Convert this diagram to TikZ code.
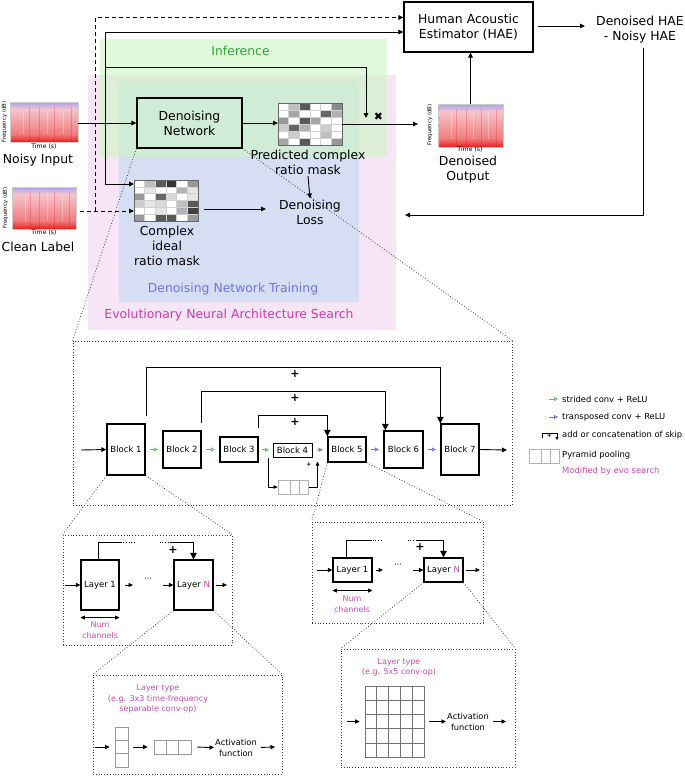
\documentclass[tikz,border=0pt]{standalone}
\usepackage{fontspec}
\setmainfont{DejaVu Sans}
\usetikzlibrary{arrows.meta,calc}
\definecolor{pinkbg}{RGB}{246,229,244}
\definecolor{bluebg}{RGB}{214,222,243}
\definecolor{greenbg}{RGB}{205,245,195}
\definecolor{infg}{RGB}{50,165,50}
\definecolor{trainc}{RGB}{110,115,230}
\definecolor{evoc}{RGB}{205,60,170}
\definecolor{mag}{RGB}{210,70,185}
\definecolor{garrc}{RGB}{90,190,90}
\definecolor{parrc}{RGB}{115,105,205}
\definecolor{specblue}{RGB}{165,165,238}
\definecolor{spectop}{RGB}{246,196,204}
\definecolor{specmid}{RGB}{240,125,125}
\definecolor{specred}{RGB}{236,30,30}
\newcommand\fsz[2]{\fontsize{#1}{#2}\selectfont}
\newcommand\specart[1]{%
  \shade[top color=spectop, bottom color=specmid]
    ($(#1.north west)!0.17!(#1.south west)$) rectangle ($(#1.north east)!0.8!(#1.south east)$);
  \shade[top color=specmid, bottom color=specred]
    ($(#1.north west)!0.8!(#1.south west)$) rectangle (#1.south east);
  \shade[top color=specblue, bottom color=spectop]
    (#1.north west) rectangle ($(#1.north east)!0.17!(#1.south east)$);
  \foreach \t in {0.28,0.43,0.66,0.9} {
    \draw[red!85!black, opacity=0.22, line width=0.8pt]
      ($(#1.north west)!\t!(#1.north east)+(0,5)$) -- ($(#1.south west)!\t!(#1.south east)$);}
  \foreach \t in {0.2,0.55,0.78} {
    \draw[white, opacity=0.3, line width=0.6pt]
      ($(#1.north west)!\t!(#1.north east)+(0,8)$) -- ($(#1.south west)!\t!(#1.south east)+(0,-8)$);}
  \draw[black!20, line width=0.4pt] (#1.north west) rectangle (#1.south east);
}
\begin{document}
\begin{tikzpicture}[x=1pt,y=-1pt,
  arr/.style={-{Triangle[length=5pt,width=4.6pt]}, line width=0.9pt},
  sarr/.style={-{Triangle[length=4.5pt,width=4.2pt]}, line width=0.9pt},
  skiparr/.style={-{Triangle[length=6.5pt,width=6.5pt]}, line width=1pt},
  dblarr/.style={{Triangle[length=4.5pt,width=4pt]}-{Triangle[length=4.5pt,width=4pt]}, line width=0.9pt},
  garr/.style={-{Triangle[open,length=4pt,width=4pt]}, draw=garrc, line width=0.8pt},
  parr/.style={-{Triangle[open,length=4pt,width=4pt]}, draw=parrc, line width=0.8pt},
  zoomln/.style={dotted, line width=0.8pt, black!75},
  zbox/.style={draw=black!75, dotted, line width=0.8pt, inner sep=0},
  blk/.style={draw, line width=1.3pt, inner sep=0, font=\fsz{8.5}{10}},
  lyr/.style={draw, line width=1.1pt, inner sep=0, font=\fsz{8.5}{10}},
  toptxt/.style={font=\fsz{12.4}{15}, align=center, inner sep=1pt},
  smalltxt/.style={font=\fsz{8.3}{11}, align=center, inner sep=1pt},
  magtxt/.style={text=mag, font=\fsz{8}{10.8}, align=center, inner sep=1pt},
  legtxt/.style={font=\fsz{8.4}{10}, anchor=west, inner sep=0},
  plus/.style={font=\bfseries\fsz{11}{12}, inner sep=0},
  axtxt/.style={font=\fsz{6.2}{7}, inner sep=0.5pt},
  frtxt/.style={font=\fsz{5.4}{6}, inner sep=0.5pt, rotate=90},
  blank/.style={inner sep=0, outer sep=0},
  cellc/.style={draw=black!40, line width=0.8pt, inner sep=0}
]
\useasboundingbox (0,0) rectangle (685,776);

% ---------- backgrounds ----------
\fill[pinkbg] (88,75) rectangle (396,330);
\fill[bluebg] (119,81) rectangle (359,302);
\fill[greenbg, fill opacity=0.6] (100,39) rectangle (387,157);
\node[toptxt, text=infg] (inflbl) at (240.5,51) {Inference};
\node[toptxt, text=trainc] (trainlbl) at (233,289) {Denoising Network Training};
\node[toptxt, text=evoc] (evolbl) at (229,315.5) {Evolutionary Neural Architecture Search};

% ---------- top nodes ----------
\node[draw, line width=1.2pt, minimum width=105pt, minimum height=50pt, toptxt] (dnet) at (189.5,123) {Denoising\\Network};

\node[blank, minimum width=68pt, minimum height=40pt] (nspec) at (44,122) {};
\specart{nspec}
\node[axtxt] (ntime) at (44,147) {Time (s)};
\node[frtxt] (nfreq) at (4.5,122) {Frequency (dB)};
\node[toptxt] (nlbl) at (38,160) {Noisy Input};

\node[blank, minimum width=64pt, minimum height=42pt] (cspec) at (44,208) {};
\specart{cspec}
\node[axtxt] (ctime) at (44,233) {Time (s)};
\node[frtxt] (cfreq) at (5.5,208) {Frequency (dB)};
\node[toptxt] (clbl) at (38,247) {Clean Label};

\node[blank, minimum width=65pt, minimum height=43pt] (dspec) at (470.5,125.5) {};
\specart{dspec}
\foreach \t in {0.1,0.3,0.5,0.7,0.9} {\draw[black!35, line width=0.4pt] ($(dspec.north west)!\t!(dspec.south west)$) -- ++(2,0);}
\node[axtxt] (dtime) at (470,150) {Time (s)};
\node[frtxt] (dfreq) at (430,125) {Frequency (dB)};
\node[toptxt] (dlbl) at (468,170) {Denoised\\Output};

% predicted mask
\node[blank, minimum width=64pt, minimum height=42pt] (pmask) at (310,124) {};
\foreach \v [count=\i from 0] in {0,25,65,0,0,45, 0,35,0,0,60,30, 40,0,65,35,0,0, 20,60,30,0,20,0, 0,20,0,0,25,0, 35,0,65,0,0,40} {
  \pgfmathtruncatemacro\cc{mod(\i,6)}\pgfmathtruncatemacro\rr{floor(\i/6)}
  \filldraw[fill=black!\v, draw=black!18, line width=0.4pt] (278+\cc*10.6667,103+\rr*7) rectangle ++(10.6667,7);}
\draw[black!60, line width=0.9pt] (pmask.north west) rectangle (pmask.south east);

% ideal mask
\node[blank, minimum width=64pt, minimum height=41pt] (imask) at (166,200.5) {};
\foreach \v [count=\i from 0] in {0,25,65,80,0,40, 0,10,0,0,30,10, 40,0,60,15,0,10, 20,10,15,0,25,65, 0,0,10,0,30,75, 40,0,65,65,0,40} {
  \pgfmathtruncatemacro\cc{mod(\i,6)}\pgfmathtruncatemacro\rr{floor(\i/6)}
  \filldraw[fill=black!\v, draw=black!18, line width=0.4pt] (134+\cc*10.6667,180+\rr*6.8333) rectangle ++(10.6667,6.8333);}
\draw[black!60, line width=0.9pt] (imask.north west) rectangle (imask.south east);

\node[toptxt] (plbl) at (308,162.5) {Predicted complex\\ratio mask};
\node[toptxt] (ilbl) at (167,246) {Complex\\ideal\\ratio mask};
\node[toptxt] (loss) at (310,212) {Denoising\\Loss};

\node[draw, line width=1.2pt, minimum width=129pt, minimum height=50pt, toptxt] (hae) at (468.5,27) {Human Acoustic\\Estimator (HAE)};
\node[toptxt] (res) at (640,29.5) {Denoised HAE\\- Noisy HAE};

% ---------- top connectors ----------
\draw[arr] (nspec.east |- dnet.west) -- (dnet.west);
\draw[arr] (dnet.east) -- (dnet.east -| pmask.west);
\coordinate (dout) at (418,124);
\draw[arr] (pmask.east) -- (dout);
\draw[arr] (dspec.north) -- (dspec.north |- hae.south);
\coordinate (resin) at (585,26);
\draw[arr, shorten <=4pt] (hae.east |- resin) -- (resin);
\coordinate (fbend) at (405,215);
\coordinate (fbtop) at (643,48);
\draw[arr] (fbtop) |- (fbend);

\coordinate (dashc) at (95,211);
\coordinate (dasht) at (95,17.5);
\draw[arr, dash pattern=on 4pt off 3pt, shorten <=4pt] (cspec.east |- dashc) -- (imask.west |- dashc);
\draw[arr, dash pattern=on 4pt off 3pt] (dashc) -- (dasht) -- (hae.west |- dasht);

\coordinate (solb) at (105,184);
\coordinate (solt) at (105,32);
\coordinate (solm) at (105,67);
\coordinate (xcor) at (366,67);
\coordinate (xend) at (366,118);
\draw[arr] (solb) -- (imask.west |- solb);
\draw[arr] (solb) -- (solt) -- (hae.west |- solt);
\draw[arr] (solm) -- (xcor) -- (xend);
\node[font=\fsz{11}{12}, inner sep=0] (xmark) at (378.5,117) {✖};

\coordinate (lossy) at (240,209);
\coordinate (lossin) at (266,209);
\draw[arr, shorten <=6pt] (imask.east |- lossy) -- (lossin);
\draw[arr] (plbl.south) -- (loss.north);

% ---------- zoom box ----------
\node[zbox, minimum width=439pt, minimum height=164pt] (bigbox) at (292.5,423) {};
\draw[zoomln] (dnet.south west) -- (bigbox.north west);
\draw[zoomln] (dnet.south east) -- (bigbox.north east);

\node[blk, minimum width=38pt, minimum height=51pt] (b1) at (126,449.5) {Block 1};
\node[blk, minimum width=38pt, minimum height=37pt] (b2) at (182,449.5) {Block 2};
\node[blk, minimum width=38pt, minimum height=25pt] (b3) at (239,449.5) {Block 3};
\node[blk, line width=1pt, minimum width=39pt, minimum height=14pt] (b4) at (292.5,450) {Block 4};
\node[blk, minimum width=38pt, minimum height=25pt] (b5) at (347,449.5) {Block 5};
\node[blk, minimum width=39pt, minimum height=37pt] (b6) at (403.5,449.5) {Block 6};
\node[blk, minimum width=38pt, minimum height=51pt] (b7) at (460,449.5) {Block 7};

\draw[garr] ($(b1.east)+(4.5,0)$) -- ($(b2.west)+(-4.5,0)$);
\draw[garr] ($(b2.east)+(4.5,0)$) -- ($(b3.west)+(-4.5,0)$);
\draw[garr] ($(b3.east)+(3.5,0)$) -- ($(b4.west)+(-3.5,0)$);
\draw[parr] ($(b4.east)+(4.5,0)$) -- ($(b5.west)+(-4.5,0)$);
\draw[parr] ($(b5.east)+(4.5,0)$) -- ($(b6.west)+(-4.5,0)$);
\draw[parr] ($(b6.east)+(4.5,0)$) -- ($(b7.west)+(-4.5,0)$);

\coordinate (bin) at (81,450);
\coordinate (bout) at (507,450);
\draw[arr] (bin) -- (b1.west);
\draw[arr] (b7.east) -- (bout);

\draw[skiparr] ($(b1.north east)+(1,-7)$) -- ++(0,-49) -| (b7.north west);
\draw[skiparr] ($(b2.north east)+(0,-7)$) -- ++(0,-32) -| ($(b6.north west)+(2,0)$);
\draw[skiparr] ($(b3.north east)+(0,-8)$) -- ++(0,-13) -| (b5.north west);
\node[plus] (pl1) at (295,374) {+};
\node[plus] (pl2) at (295,398) {+};
\node[plus] (pl3) at (295,422) {+};

\node[cellc, draw=black!30, minimum width=30pt, minimum height=14pt] (pp) at (293,487) {};
\draw[black!30, line width=0.8pt] ($(pp.north west)!0.4!(pp.north east)$) -- ($(pp.south west)!0.4!(pp.south east)$);
\draw[black!30, line width=0.8pt] ($(pp.north west)!0.72!(pp.north east)$) -- ($(pp.south west)!0.72!(pp.south east)$);
\draw[-{Triangle[length=4pt,width=3.6pt]}, line width=0.8pt] ($(b4.south west)+(-4,0)$) |- (pp.west);
\draw[-{Triangle[length=4pt,width=3.6pt]}, line width=0.8pt, shorten <=1pt] (pp.east) -| ($(b4.south east)+(5,4)$);
\node[font=\bfseries\fsz{6}{7}, inner sep=0] (ppl) at (309,465) {+};

% ---------- legend ----------
\coordinate (lg1s) at (549,399);
\coordinate (lg1e) at (558,399);
\draw[garr] (lg1s) -- (lg1e);
\node[legtxt] (lg1) at (562,399) {strided conv + ReLU};
\coordinate (lg2s) at (549,417);
\coordinate (lg2e) at (558,417);
\draw[parr] (lg2s) -- (lg2e);
\node[legtxt] (lg2) at (562,417) {transposed conv + ReLU};
\coordinate (lgk1) at (542,438);
\coordinate (lgk2) at (557,440);
\draw[-{Triangle[length=3pt,width=3pt]}, line width=0.8pt] (lgk1) -- ++(0,-5) -| (lgk2);
\node[font=\bfseries\fsz{6}{7}, inner sep=0] (lgkp) at (549.5,436) {+};
\node[legtxt] (lg3) at (562,435) {add or concatenation of skip};
\node[cellc, draw=black!30, minimum width=30pt, minimum height=14pt] (lgpp) at (544,456) {};
\draw[black!30, line width=0.8pt] ($(lgpp.north west)!0.4!(lgpp.north east)$) -- ($(lgpp.south west)!0.4!(lgpp.south east)$);
\draw[black!30, line width=0.8pt] ($(lgpp.north west)!0.72!(lgpp.north east)$) -- ($(lgpp.south west)!0.72!(lgpp.south east)$);
\node[legtxt] (lg4) at (562,455) {Pyramid pooling};
\node[legtxt, text=mag] (lg5) at (562,471) {Modified by evo search};

% ---------- sub box 1 ----------
\node[zbox, minimum width=169pt, minimum height=110pt] (sb1) at (147.5,590) {};
\draw[zoomln] (b1.south west) -- (sb1.north west);
\draw[zoomln] (b1.south east) -- (sb1.north east);
\node[lyr, minimum width=38pt, minimum height=50pt] (l1a) at (100,585) {Layer 1};
\node[lyr, minimum width=39pt, minimum height=50pt] (lna) at (193.5,585) {Layer \textcolor{mag}{N}};
\coordinate (a1in) at (65,585);
\coordinate (a1m) at (133,585);
\coordinate (a1m2) at (163,585);
\coordinate (a1out) at (227,585);
\draw[sarr] (a1in) -- (l1a.west);
\draw[sarr, shorten <=5pt] (l1a.east) -- (a1m);
\node[smalltxt] (a1dots) at (148,580) {···};
\draw[sarr] (a1m2) -- (lna.west);
\draw[sarr, shorten <=2pt] (lna.east) -- (a1out);
\draw[line width=1pt] ($(l1a.north)+(-2,0)$) -- ++(0,-17) -- ++(24,0);
\draw[dotted, line width=0.8pt] ($(l1a.north)+(23,-17)$) -- ++(13,0);
\draw[dotted, line width=0.8pt] ($(lna.north)+(-34,-17)$) -- ++(10,0);
\draw[skiparr] ($(lna.north)+(-24,-17)$) -| (lna.north);
\node[plus] (a1p) at (173,550) {+};
\draw[dblarr] ($(l1a.south west)+(0,7)$) -- ($(l1a.south east)+(0,7)$);
\node[magtxt] (nc1) at (100,630) {Num\\channels};

% ---------- sub box 2 ----------
\node[zbox, minimum width=171pt, minimum height=101pt] (sb2) at (397.5,572.5) {};
\draw[zoomln] (b5.south west) -- (sb2.north west);
\draw[zoomln] (b5.south east) -- (sb2.north east);
\node[lyr, minimum width=39pt, minimum height=24pt] (l1b) at (352.5,570) {Layer 1};
\node[lyr, minimum width=39pt, minimum height=24pt] (lnb) at (443.5,570) {Layer \textcolor{mag}{N}};
\coordinate (a2in) at (317,570);
\coordinate (a2m) at (383,570);
\coordinate (a2m2) at (413,570);
\coordinate (a2out) at (480,570);
\draw[sarr] (a2in) -- (l1b.west);
\draw[sarr, shorten <=3pt] (l1b.east) -- (a2m);
\node[smalltxt] (a2dots) at (398,566) {···};
\draw[sarr] (a2m2) -- (lnb.west);
\draw[sarr, shorten <=2pt] (lnb.east) -- (a2out);
\draw[line width=1pt] ($(l1b.north)+(-6.5,0)$) -- ++(0,-17) -- ++(26,0);
\draw[dotted, line width=0.8pt] ($(l1b.north)+(20,-17)$) -- ++(10,0);
\draw[dotted, line width=0.8pt] ($(lnb.north)+(-36,-17)$) -- ++(8,0);
\draw[skiparr] ($(lnb.north)+(-28,-17)$) -| (lnb.north);
\node[plus] (a2p) at (420,547) {+};
\draw[dblarr] ($(l1b.south west)+(0,8)$) -- ($(l1b.south east)+(0,8)$);
\node[magtxt] (nc2) at (352,604) {Num\\channels};

% ---------- sub box 3 ----------
\node[zbox, minimum width=189pt, minimum height=99pt] (sb3) at (187.5,724.5) {};
\draw[zoomln] (lna.south west) -- (sb3.north west);
\draw[zoomln] (lna.south east) -- (sb3.north east);
\node[magtxt] (lt3) at (158,699) {Layer type\\(e.g. 3x3 time-frequency\\separable conv-op)};
\node[cellc, minimum width=13pt, minimum height=40pt] (vk) at (121.5,747) {};
\draw[black!40, line width=0.8pt] ($(vk.north west)!0.333!(vk.south west)$) -- ($(vk.north east)!0.333!(vk.south east)$);
\draw[black!40, line width=0.8pt] ($(vk.north west)!0.667!(vk.south west)$) -- ($(vk.north east)!0.667!(vk.south east)$);
\node[cellc, minimum width=37pt, minimum height=14pt] (hk) at (172.5,747) {};
\draw[black!40, line width=0.8pt] ($(hk.north west)!0.333!(hk.north east)$) -- ($(hk.south west)!0.333!(hk.south east)$);
\draw[black!40, line width=0.8pt] ($(hk.north west)!0.667!(hk.north east)$) -- ($(hk.south west)!0.667!(hk.south east)$);
\node[smalltxt] (act3) at (236,747.5) {Activation\\function};
\coordinate (c3in) at (95,747);
\coordinate (c3out) at (275,747);
\draw[sarr, shorten >=5pt] (c3in) -- (vk.west);
\draw[sarr, shorten <=5pt, shorten >=6pt] (vk.east) -- (hk.west);
\draw[sarr, shorten <=6pt] (hk.east) -- (act3.west);
\draw[sarr, shorten <=3pt] (act3.east) -- (c3out);

% ---------- sub box 4 ----------
\node[zbox, minimum width=174pt, minimum height=118pt] (sb4) at (428,708) {};
\draw[zoomln] (lnb.south west) -- (sb4.north west);
\draw[zoomln] (lnb.south east) -- (sb4.north east);
\node[magtxt] (lt4) at (399,667.5) {Layer type\\(e.g. 5x5 conv-op)};
\node[cellc, draw=black!55, minimum width=59pt, minimum height=71pt] (gk) at (394.5,721.5) {};
\foreach \t in {0.2,0.4,0.6,0.8} {
  \draw[black!55, line width=0.8pt] ($(gk.north west)!\t!(gk.north east)$) -- ($(gk.south west)!\t!(gk.south east)$);
  \draw[black!55, line width=0.8pt] ($(gk.north west)!\t!(gk.south west)$) -- ($(gk.north east)!\t!(gk.south east)$);}
\node[smalltxt] (act4) at (468,721.5) {Activation\\function};
\coordinate (c4in) at (347,721.5);
\coordinate (c4out) at (506,721.5);
\draw[sarr, shorten >=5pt] (c4in) -- (gk.west);
\draw[sarr, shorten <=5pt] (gk.east) -- (act4.west);
\draw[sarr, shorten <=3pt] (act4.east) -- (c4out);
\end{tikzpicture}
\end{document}
